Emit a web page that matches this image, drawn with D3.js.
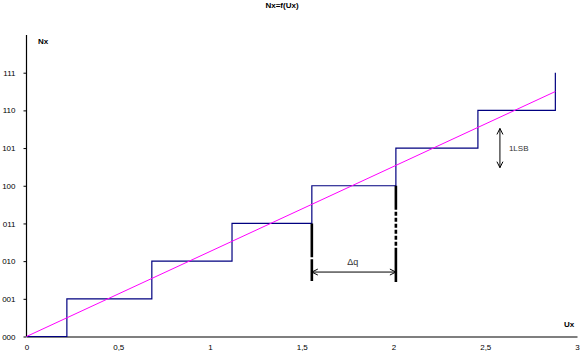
<!DOCTYPE html>
<html><head><meta charset="utf-8">
<script src="https://cdn.jsdelivr.net/npm/d3@7"></script>
<style>body{margin:0;background:#fff}svg{display:block}text{font-family:"Liberation Sans",Arial,sans-serif}</style>
</head><body>
<script>
const xTicks = [0, 0.5, 1, 1.5, 2, 2.5, 3];
const yTickLabels = ["000","001","010","011","100","101","110","111"];
const stepEdges = [0.22, 0.683, 1.12, 1.555, 2.013, 2.46, 2.882];
const idealLine = [[0, 0], [2.882, 6.5]];
const deltaQ = {x0: 1.555, x1: 2.013, y0: 3, y1: 4, bottom: 1.5, arrowY: 1.71, label: "Δq"};
const lsb = {x: 2.58, y0: 4.48, y1: 5.52, label: "1LSB"};

const W = 580, H = 357;
const svg = d3.select("body").append("svg").attr("width", W).attr("height", H);
const x = d3.scaleLinear().domain([0, 3]).range([26.5, 577]);
const y = d3.scaleLinear().domain([0, 8]).range([336.5, 35]);

// title
svg.append("text").attr("x", 282).attr("y", 8).attr("text-anchor", "middle")
  .attr("font-size", 8).attr("font-weight", "bold").text("Nx=f(Ux)");

// x axis
const xAxis = d3.axisBottom(x).tickValues(xTicks).tickSize(0).tickPadding(8)
  .tickFormat(d => String(d).replace(".", ","));
const gx = svg.append("g").attr("transform", `translate(0,${y(0)})`).call(xAxis);
gx.select(".domain").attr("stroke", "#000").attr("stroke-width", 1.2);
gx.selectAll("text").attr("font-size", 8).attr("font-family", "Liberation Sans, Arial, sans-serif").attr("fill", "#000");

// y axis
const yAxis = d3.axisLeft(y).tickValues(d3.range(yTickLabels.length)).tickSize(3).tickPadding(8)
  .tickFormat(i => yTickLabels[i]);
const gy = svg.append("g").attr("transform", `translate(${x(0)},0)`).call(yAxis);
gy.select(".domain").attr("d", `M0,${y(8)}V${y(0)}`).attr("stroke", "#000").attr("stroke-width", 1.2);
gy.selectAll(".tick line").attr("stroke", "#000");
gy.selectAll("text").attr("font-size", 8).attr("font-family", "Liberation Sans, Arial, sans-serif").attr("fill", "#000");

svg.append("text").attr("x", 38).attr("y", 44).attr("font-size", 8).attr("font-weight", "bold").text("Nx");
svg.append("text").attr("x", 564).attr("y", 327).attr("font-size", 8).attr("font-weight", "bold").text("Ux");

// staircase
const stairPts = [[0, 0]].concat(stepEdges.map((e, i) => [e, i + 1]));
svg.append("path").datum(stairPts)
  .attr("d", d3.line().x(d => x(d[0])).y(d => y(d[1])).curve(d3.curveStepAfter))
  .attr("fill", "none").attr("stroke", "#000080").attr("stroke-width", 1.2);

// ideal line
svg.append("path").datum(idealLine)
  .attr("d", d3.line().x(d => x(d[0])).y(d => y(d[1])))
  .attr("fill", "none").attr("stroke", "#FF00FF").attr("stroke-width", 1);

// delta q annotation
const lh = y(deltaQ.bottom) - y(deltaQ.y0);
svg.append("line").attr("x1", x(deltaQ.x0)).attr("x2", x(deltaQ.x0))
  .attr("y1", y(deltaQ.y0)).attr("y2", y(deltaQ.bottom) + 1)
  .attr("stroke", "#000").attr("stroke-width", 2.6)
  .attr("stroke-dasharray", `${lh * 0.6},2,${lh}`);
const rh = y(deltaQ.bottom) - y(deltaQ.y1);
svg.append("line").attr("x1", x(deltaQ.x1)).attr("x2", x(deltaQ.x1))
  .attr("y1", y(deltaQ.y1)).attr("y2", y(deltaQ.bottom) + 2)
  .attr("stroke", "#000").attr("stroke-width", 2.6)
  .attr("stroke-dasharray", "24,2,4,2,4,2,4,2,4,2,4,2,4,2,200");
const ay = y(deltaQ.arrowY);
const ax0 = x(deltaQ.x0), ax1 = x(deltaQ.x1);
svg.append("path").attr("d", `M${ax0},${ay}H${ax1}M${ax0 + 6},${ay - 3}L${ax0},${ay}L${ax0 + 6},${ay + 3}M${ax1 - 6},${ay - 3}L${ax1},${ay}L${ax1 - 6},${ay + 3}`)
  .attr("fill", "none").attr("stroke", "#000").attr("stroke-width", 1);
svg.append("text").attr("x", (ax0 + ax1) / 2 - 1).attr("y", ay - 7).attr("text-anchor", "middle")
  .attr("font-size", 9).attr("fill", "#333").text(deltaQ.label);

// 1LSB arrow
const lx = x(lsb.x), ly0 = y(lsb.y0), ly1 = y(lsb.y1);
svg.append("path").attr("d", `M${lx},${ly1}V${ly0}M${lx - 3},${ly1 + 6}L${lx},${ly1}L${lx + 3},${ly1 + 6}M${lx - 3},${ly0 - 6}L${lx},${ly0}L${lx + 3},${ly0 - 6}`)
  .attr("fill", "none").attr("stroke", "#000").attr("stroke-width", 1);
svg.append("text").attr("x", lx + 9).attr("y", (ly0 + ly1) / 2 + 3).attr("font-size", 8).attr("fill", "#333").text(lsb.label);
</script>
</body></html>
